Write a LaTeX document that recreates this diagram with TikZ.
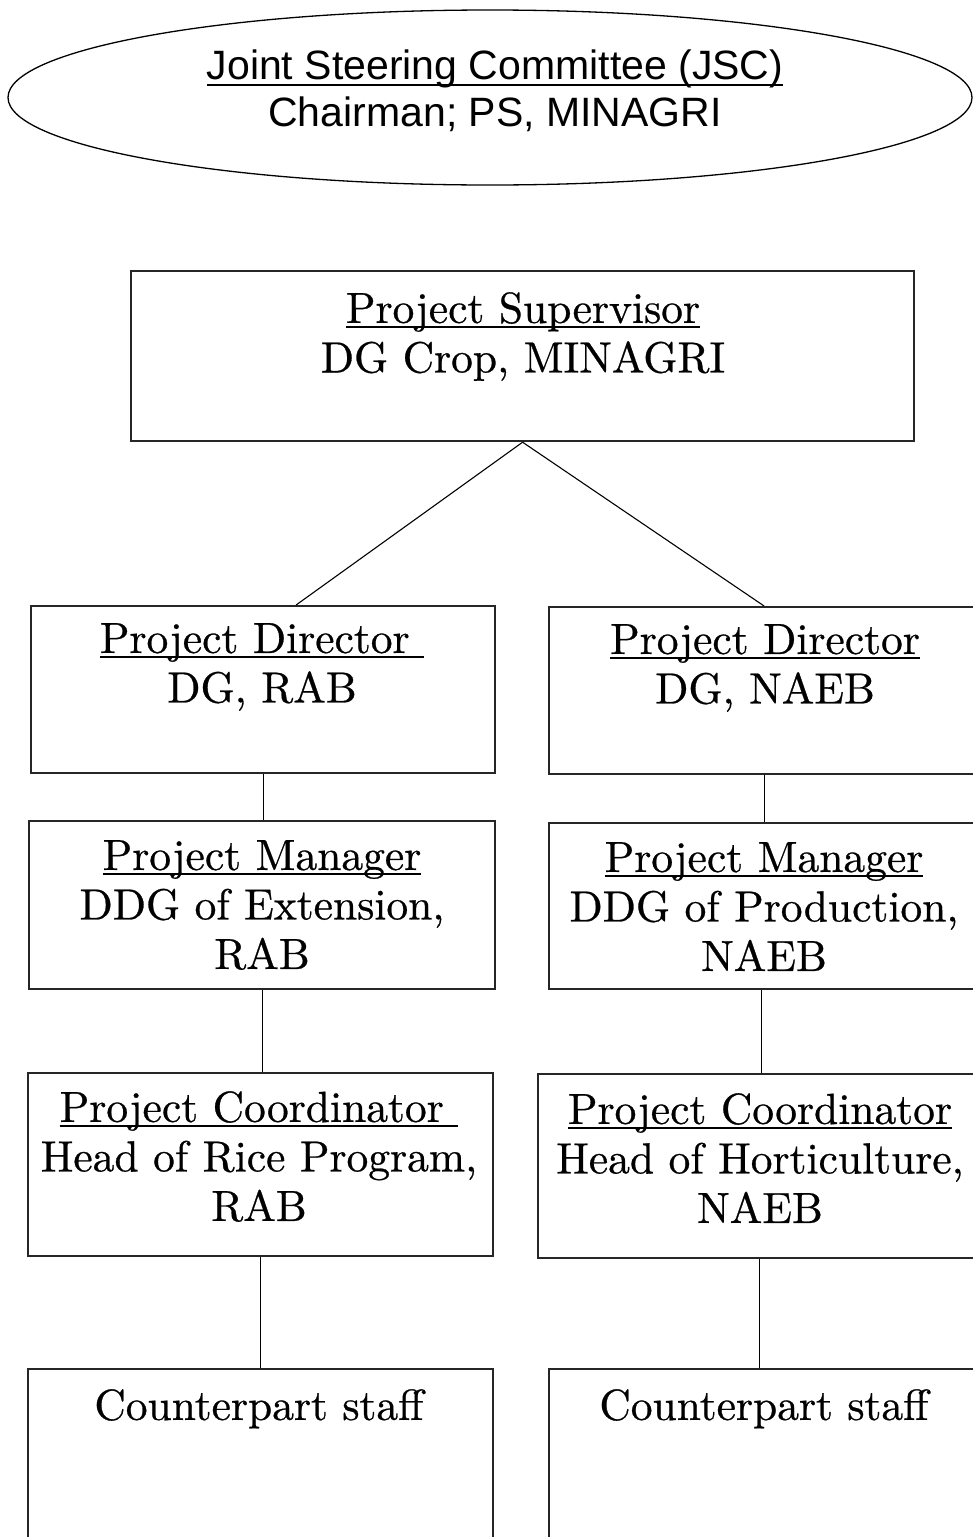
\documentclass[tikz,border=0pt]{standalone}
\usepackage{fontspec}
\setmainfont{lmroman10-regular.otf}[FakeBold=0.6]
\newfontfamily\sansfnt{Liberation Sans}
\usetikzlibrary{shapes.geometric}

% underline with a fixed depth and thickness
\newcommand\ulserif[1]{\setbox0\hbox{#1}\rlap{\rule[-5pt]{\wd0}{1.8pt}}\box0}
\newcommand\ulsans[1]{\setbox0\hbox{#1}\rlap{\rule[-6pt]{\wd0}{1.8pt}}\box0}

\tikzset{
  orgbox/.style={draw=black!85, line width=2.2pt, inner sep=0pt, anchor=north west},
  serif/.style={anchor=north, inner sep=0pt, align=center,
    font=\fontsize{43.5}{49.5}\selectfont},
  sans/.style={anchor=north, inner sep=0pt, align=center,
    font=\sansfnt\fontsize{41}{47}\selectfont},
  link/.style={draw=black, line width=1.1pt},
}

\begin{document}
\begin{tikzpicture}[x=1pt, y=-1pt]
\useasboundingbox (0,0) rectangle (973,1537);
\clip (0,0) rectangle (973,1537);

% steering committee
\node[draw, ellipse, line width=1.3pt, minimum width=964pt, minimum height=175pt] (jsc) at (490,97.5) {};
\node[sans] (jsct) at (495,50) {\ulsans{Joint Steering Committee (JSC)}\\Chairman; PS, MINAGRI};

% supervisor
\node[orgbox, minimum width=783pt, minimum height=170pt] (sup) at (130,270) {};
\node[serif] (supt) at (523,292) {\ulserif{Project Supervisor}\\DG Crop, MINAGRI};

% directors
\node[orgbox, minimum width=464pt, minimum height=167pt] (dl) at (30,605) {};
\node[serif] (dlt) at (262,623) {\ulserif{Project Director\ }\\DG, RAB};
\node[orgbox, minimum width=434pt, minimum height=167pt] (dr) at (548,606) {};
\node[serif] (drt) at (765,624) {\ulserif{Project Director}\\DG, NAEB};

% managers
\node[orgbox, minimum width=466pt, minimum height=168pt] (ml) at (28,820) {};
\node[serif] (mlt) at (262,840) {\ulserif{Project Manager}\\DDG of Extension,\\RAB};
\node[orgbox, minimum width=430pt, minimum height=166pt] (mr) at (548,822) {};
\node[serif] (mrt) at (764,842) {\ulserif{Project Manager}\\DDG of Production,\\NAEB};

% coordinators
\node[orgbox, minimum width=465pt, minimum height=183pt] (cl) at (27,1072) {};
\node[serif] (clt) at (259,1091) {\ulserif{Project Coordinator\ }\\Head of Rice Program,\\RAB};
\node[orgbox, minimum width=446pt, minimum height=184pt] (cr) at (537,1073) {};
\node[serif] (crt) at (760,1093) {\ulserif{Project Coordinator}\\Head of Horticulture,\\NAEB};

% counterpart staff
\node[orgbox, minimum width=465pt, minimum height=200pt] (sl) at (27,1368) {};
\node[serif] (slt) at (259,1389) {Counterpart staff};
\node[orgbox, minimum width=432pt, minimum height=200pt] (sr) at (548,1368) {};
\node[serif] (srt) at (764,1389) {Counterpart staff};

% connectors
\draw[link] (sup.south) -- ([xshift=33pt]dl.north);
\draw[link] (sup.south) -- ([xshift=-2pt]dr.north);
\draw[link] (dl.south) -- (dl.south |- ml.north);
\draw[link] ([xshift=-2pt]dr.south) -- ([xshift=-2pt]dr.south |- mr.north);
\draw[link] (ml.south) -- (ml.south |- cl.north);
\draw[link] ([xshift=-3pt]mr.south) -- ([xshift=-3pt]mr.south |- cr.north);
\draw[link] (cl.south) -- (cl.south |- sl.north);
\draw[link] ([xshift=-2pt]cr.south) -- ([xshift=-2pt]cr.south |- sr.north);
\end{tikzpicture}
\end{document}
